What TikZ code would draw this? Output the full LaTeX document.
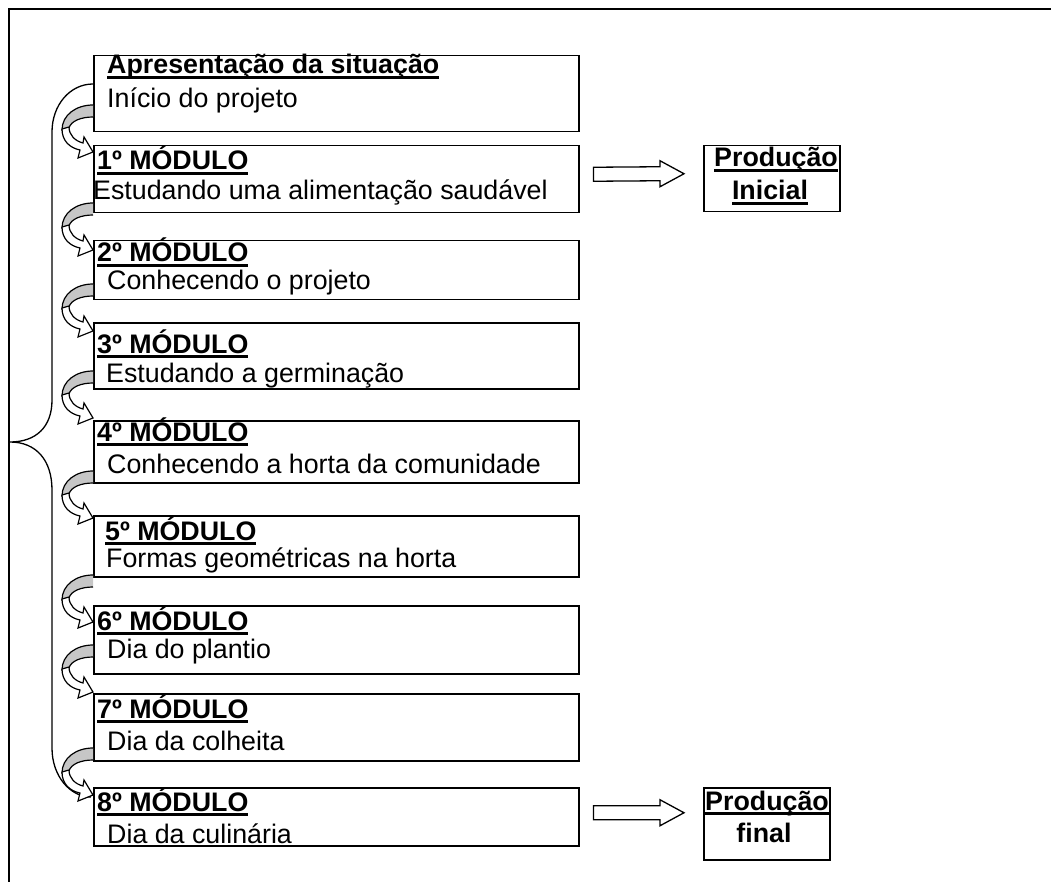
\documentclass[tikz,border=0pt]{standalone}
\usepackage{fontspec}
\setmainfont{Liberation Sans}
\usetikzlibrary{calc,positioning}

\newcommand{\txtsize}{\fontsize{26.8}{32}\selectfont}
\newcommand{\ulhead}[1]{\setbox0=\hbox{\bfseries #1}\rlap{\rule[-5pt]{\wd0}{3pt}}\box0}

\begin{document}
\begin{tikzpicture}[
        x=1pt, y=-1pt,
        modbox/.style={draw, line width=1.5pt, anchor=north west, inner sep=0pt,
            minimum width=485pt},
        prodbox/.style={draw, line width=1.5pt, anchor=north west, inner sep=0pt},
        head/.style={anchor=base west, inner sep=0pt, font=\txtsize},
        sub/.style={anchor=base west, inner sep=0pt, font=\txtsize},
        ptext/.style={anchor=base, inner sep=0pt, font=\txtsize\bfseries},
        blockarr/.style={draw, line width=1.3pt, fill=white, line join=miter},
        curvarr/.pic={
            % back of the band
            \filldraw[fill=gray!45, line width=1.2pt] (0,-47) .. controls (-17,-47) and (-31,-37) .. (-31,-22)
                -- (-24,-24) .. controls (-22,-31) and (-12,-35) .. (0,-35);
            % front of the band with the head
            \filldraw[fill=white, line width=1.2pt, line join=miter] (-31,-23) .. controls (-31,-11) and (-23,-4) .. (-13,-2)
                -- (-15,6) -- (0,0) -- (-9,-15) -- (-10,-9)
                .. controls (-18,-11) and (-24,-17) .. (-24,-25) -- cycle;
        }
    ]
    \useasboundingbox (0,0) rectangle (1051,882);
    \draw[line width=1.5pt] (1051,9) -- (9,9) -- (9,882);

    % boxes
    \node[modbox, minimum height=76pt] (m0) at (93,55) {};
    \node[modbox, minimum height=67pt] (m1) at (93,145) {};
    \node[modbox, minimum height=59pt] (m2) at (93,240) {};
    \node[modbox, minimum height=66pt] (m3) at (93,322) {};
    \node[modbox, minimum height=62pt] (m4) at (93,420) {};
    \node[modbox, minimum height=61pt] (m5) at (93,515) {};
    \node[modbox, minimum height=68pt] (m6) at (93,605) {};
    \node[modbox, minimum height=67pt] (m7) at (93,693) {};
    \node[modbox, minimum height=58pt] (m8) at (93,787) {};

    \node[prodbox, minimum width=136pt, minimum height=66pt] (prodini) at (703,145) {};
    \node[prodbox, minimum width=126pt, minimum height=72pt] (prodfin) at (703,787) {};

    % texts
    \node[head] (h0) at (107,74) {\ulhead{Apresentação da situação}};
    \node[sub] (s0) at (107,108) {Início do projeto};
    \node[head] (h1) at (97,170) {\ulhead{1º MÓDULO}};
    \node[sub] (s1) at (93,200) {Estudando uma alimentação saudável};
    \node[head] (h2) at (97,262) {\ulhead{2º MÓDULO}};
    \node[sub] (s2) at (107,290) {Conhecendo o projeto};
    \node[head] (h3) at (97,353) {\ulhead{3º MÓDULO}};
    \node[sub] (s3) at (106,382) {Estudando a germinação};
    \node[head] (h4) at (97,441) {\ulhead{4º MÓDULO}};
    \node[sub] (s4) at (107,473) {Conhecendo a horta da comunidade};
    \node[head] (h5) at (105,540) {\ulhead{5º MÓDULO}};
    \node[sub] (s5) at (106,567) {Formas geométricas na horta};
    \node[head] (h6) at (97,630) {\ulhead{6º MÓDULO}};
    \node[sub] (s6) at (107,658) {Dia do plantio};
    \node[head] (h7) at (97,718) {\ulhead{7º MÓDULO}};
    \node[sub] (s7) at (107,750) {Dia da colheita};
    \node[head] (h8) at (97,811) {\ulhead{8º MÓDULO}};
    \node[sub] (s8) at (107,843) {Dia da culinária};

    \node[ptext] (pi1) at (776,167) {\ulhead{Produção}};
    \node[ptext] (pi2) at (770,200) {\ulhead{Inicial}};
    \node[ptext] (pf1) at (767,810) {\ulhead{Produção}};
    \node[ptext] (pf2) at (764,842) {final};

    % brace
    \draw[line width=1.3pt] (m0.west |- 0,84) .. controls (70,84) and (52,105) .. (52,132)
        -- (52,400) .. controls (52,427) and (36,442) .. (10,442)
        .. controls (36,442) and (52,460) .. (52,490)
        -- (52,748) .. controls (52,776) and (70,797) .. (91,797);

    % curved arrows between the boxes
    \foreach \b/\d in {m1/7, m2/10, m3/9, m4/-2, m5/3, m6/17, m7/-1, m8/8}
        \pic at ($(\b.north west)+(0,\d)$) {curvarr};

    % block arrows
    \path (m1.east) ++(14,-5) coordinate (a1);
    \path (prodini.west) ++(-19,-5) coordinate (b1);
    \draw[blockarr] ($(a1)+(0,-7)$) -- ($(b1)+(-24,-7)$) -- ($(b1)+(-24,-13)$) -- (b1)
        -- ($(b1)+(-24,13)$) -- ($(b1)+(-24,7)$) -- ($(a1)+(0,7)$) -- cycle;
    \path (m8.east) ++(14,-4) coordinate (a2);
    \path (prodfin.west) ++(-19,-11) coordinate (b2);
    \draw[blockarr] ($(a2)+(0,-7)$) -- ($(b2)+(-24,-7)$) -- ($(b2)+(-24,-13)$) -- (b2)
        -- ($(b2)+(-24,13)$) -- ($(b2)+(-24,7)$) -- ($(a2)+(0,7)$) -- cycle;
\end{tikzpicture}
\end{document}
